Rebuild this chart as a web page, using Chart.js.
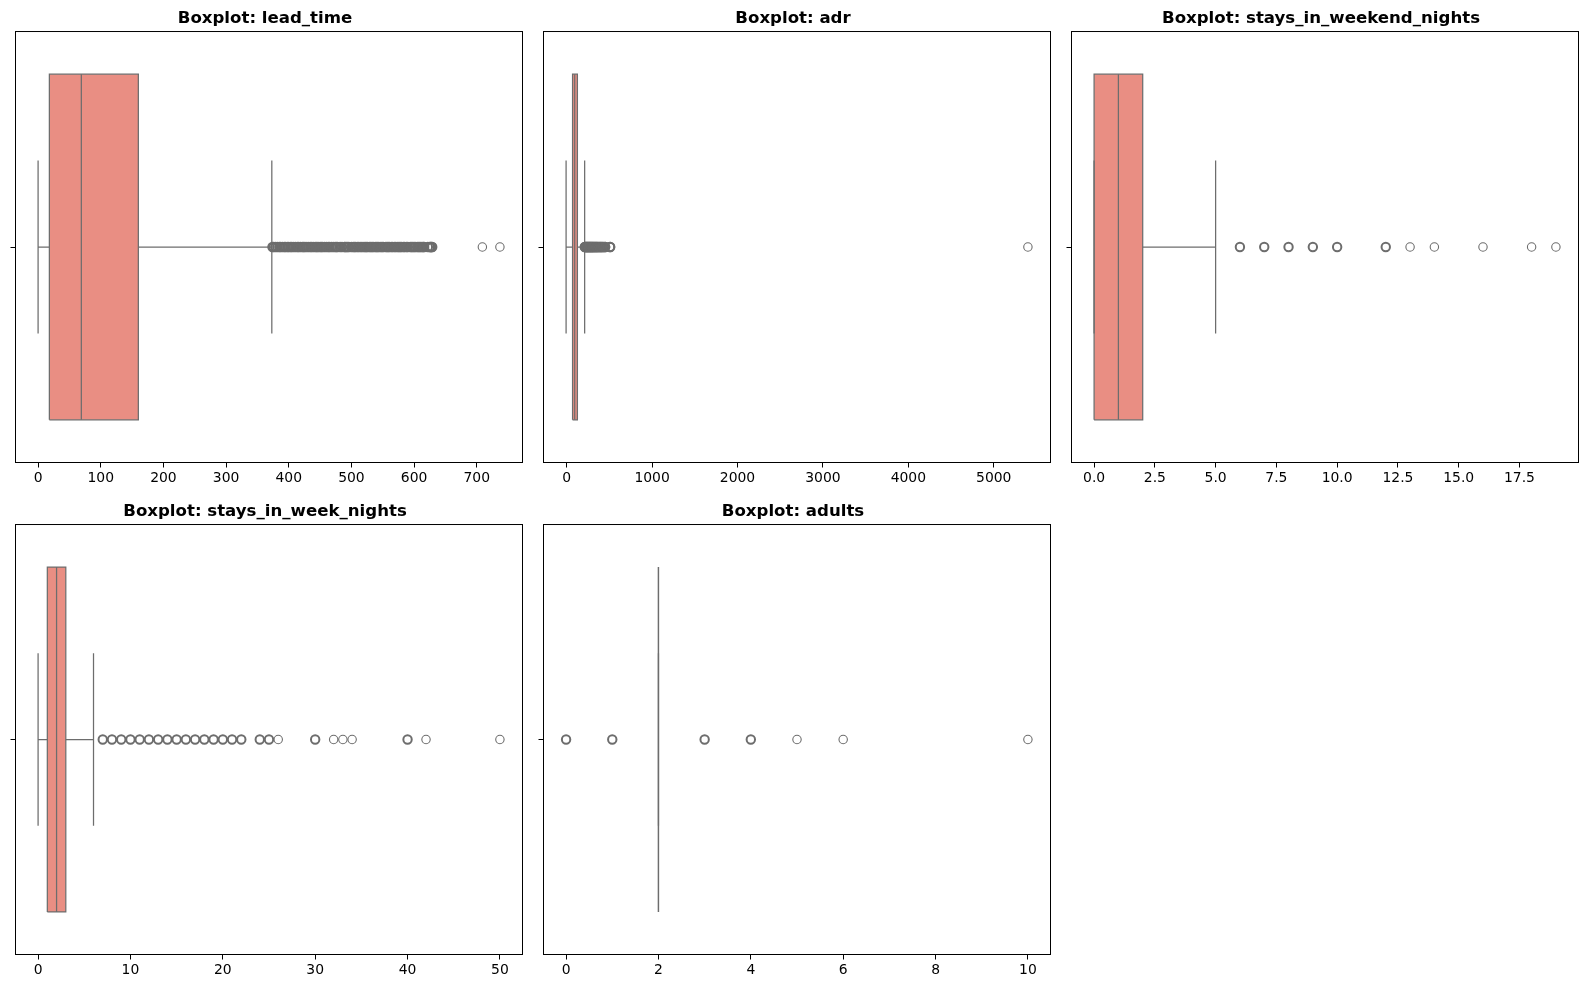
<!DOCTYPE html>
<html>
<head>
<meta charset="utf-8">
<script src="https://cdn.jsdelivr.net/npm/chart.js@4.4.0/dist/chart.umd.min.js"></script>
<style>
  body { margin: 0; background: #fff; width: 1590px; height: 989px; position: relative; overflow: hidden; }
  .panel { position: absolute; width: 524px; }
</style>
</head>
<body>
<div class="panel" style="left:7px;top:3px;height:490px"><canvas id="c0"></canvas></div>
<div class="panel" style="left:535px;top:3px;height:490px"><canvas id="c1"></canvas></div>
<div class="panel" style="left:1063px;top:3px;height:490px"><canvas id="c2"></canvas></div>
<div class="panel" style="left:7px;top:496px;height:489px"><canvas id="c3"></canvas></div>
<div class="panel" style="left:535px;top:496px;height:489px"><canvas id="c4"></canvas></div>
<script>
// one entry per column that was boxplotted
const variables = ['lead_time', 'adr', 'stays_in_weekend_nights', 'stays_in_week_nights', 'adults'];
const whiskerLow = [0, -6.38, 0, 0, 2];
const q1 = [18, 69.29, 0, 1, 2];
const median = [69, 94.575, 1, 2, 2];
const q3 = [160, 126, 2, 3, 2];
const whiskerHigh = [373, 211, 5, 6, 2];

// outliers
const leadTimeOutliers = [374, 376, 379, 382, 385, 387, 390, 393, 395, 398, 400, 403, 405, 408, 411, 414,
  416, 419, 422, 424, 426, 429, 432, 435, 437, 440, 443, 445, 447, 450, 452, 454, 457, 460, 463, 465,
  468, 471, 474, 476, 478, 482, 485, 489, 490, 492, 494, 496, 500, 503, 505, 507, 510, 512, 515, 517,
  520, 522, 524, 526, 529, 531, 533, 535, 538, 540, 542, 544, 547, 549, 551, 555, 557, 559, 561, 564,
  566, 569, 571, 574, 576, 578, 580, 583, 585, 588, 590, 594, 596, 598, 600, 602, 605, 607, 609, 611,
  613, 615, 616, 622, 625, 626, 627, 628, 629, 709, 737];
const adrOutliers = [212, 216, 220, 225, 230, 235, 240, 245, 250, 255, 260, 265, 270, 275, 280, 285, 290,
  295, 300, 305, 310, 316, 322, 328, 334, 340, 346, 352, 358, 365, 372, 380, 388, 395, 402, 410, 418,
  426, 437, 450, 451, 508, 510, 5400];
const weekendOutliers = [6, 7, 8, 9, 10, 12, 13, 14, 16, 18, 19];
const weekOutliers = [7, 8, 9, 10, 11, 12, 13, 14, 15, 16, 17, 18, 19, 20, 21, 22, 24, 25, 26, 30, 32, 33, 34, 40, 42, 50];
const adultsOutliers = [0, 1, 3, 4, 5, 6, 10];
const outliers = [leadTimeOutliers, adrOutliers, weekendOutliers, weekOutliers, adultsOutliers];

// outlier values that occur many times (drawn with a heavier ring)
const frequentOutliers = [
  leadTimeOutliers.filter(v => v < 700),
  adrOutliers.filter(v => v < 1000),
  [6, 7, 8, 9, 10, 12],
  [7, 8, 9, 10, 11, 12, 13, 14, 15, 16, 17, 18, 19, 20, 21, 22, 24, 25, 30, 40],
  [0, 1, 3, 4]
];

const xTicks = [
  [0, 100, 200, 300, 400, 500, 600, 700],
  [0, 1000, 2000, 3000, 4000, 5000],
  [0, 2.5, 5, 7.5, 10, 12.5, 15, 17.5],
  [0, 10, 20, 30, 40, 50],
  [0, 2, 4, 6, 8, 10]
];
const tickDecimals = [0, 0, 1, 0, 0];

const boxFill = '#e98e83';
const lineGray = '#6d6d6d';

const framePlugin = {
  id: 'frame',
  afterDatasetsDraw(chart) {
    const { ctx, chartArea: a } = chart;
    ctx.save();
    ctx.strokeStyle = '#000';
    ctx.lineWidth = 1;
    ctx.strokeRect(a.left + 0.5, a.top + 0.5, a.right - a.left - 1, a.bottom - a.top - 1);
    ctx.restore();
  }
};

function drawBoxplot(i) {
  const all = outliers[i].concat([whiskerLow[i], whiskerHigh[i]]);
  const lo = Math.min(...all), hi = Math.max(...all);
  const pad = (hi - lo) * 0.05;
  const heavy = new Set(frequentOutliers[i]);

  const ctx = document.getElementById('c' + i);
  new Chart(ctx, {
    type: 'scatter',
    data: {
      datasets: [
        {
          type: 'line',
          data: [{ x: q1[i], y: 0.4 }, { x: q3[i], y: 0.4 }],
          fill: { value: -0.4 },
          backgroundColor: boxFill,
          borderWidth: 0,
          pointRadius: 0,
          order: 10
        },
        {
          type: 'line',
          data: [{ x: q1[i], y: -0.4 }, { x: q3[i], y: -0.4 }, { x: q3[i], y: 0.4 }, { x: q1[i], y: 0.4 }, { x: q1[i], y: -0.4 }],
          borderColor: lineGray,
          borderWidth: 1.25,
          borderJoinStyle: 'miter',
          pointRadius: 0,
          fill: false,
          order: 5
        },
        {
          type: 'line',
          data: [{ x: median[i], y: -0.4 }, { x: median[i], y: 0.4 }],
          borderColor: lineGray,
          borderWidth: 1.25,
          pointRadius: 0,
          fill: false,
          order: 4
        },
        {
          // whiskers and caps
          type: 'line',
          data: [
            { x: whiskerLow[i], y: 0 }, { x: q1[i], y: 0 }, { x: q1[i], y: null },
            { x: q3[i], y: 0 }, { x: whiskerHigh[i], y: 0 }, { x: whiskerHigh[i], y: null },
            { x: whiskerLow[i], y: -0.2 }, { x: whiskerLow[i], y: 0.2 }, { x: whiskerLow[i], y: null },
            { x: whiskerHigh[i], y: -0.2 }, { x: whiskerHigh[i], y: 0.2 }
          ],
          borderColor: lineGray,
          borderWidth: 1.25,
          pointRadius: 0,
          spanGaps: false,
          fill: false,
          order: 4
        },
        {
          type: 'scatter',
          data: outliers[i].filter(v => !heavy.has(v)).map(v => ({ x: v, y: 0 })),
          pointStyle: 'circle',
          pointRadius: 4.2,
          pointBorderWidth: 1.1,
          pointBackgroundColor: 'rgba(0,0,0,0)',
          pointBorderColor: lineGray,
          order: 2
        },
        {
          type: 'scatter',
          data: outliers[i].filter(v => heavy.has(v)).map(v => ({ x: v, y: 0 })),
          pointStyle: 'circle',
          pointRadius: 4.2,
          pointBorderWidth: 2,
          pointBackgroundColor: 'rgba(0,0,0,0)',
          pointBorderColor: lineGray,
          order: 1
        }
      ]
    },
    options: {
      responsive: true,
      maintainAspectRatio: false,
      animation: false,
      events: [],
      layout: { padding: { left: 0, right: 8, top: 0, bottom: 0 } },
      plugins: {
        legend: { display: false },
        tooltip: { enabled: false },
        title: {
          display: true,
          text: 'Boxplot: ' + variables[i],
          color: '#000',
          font: { family: 'DejaVu Sans', size: 16.6, weight: 'bold', lineHeight: 1.2 },
          padding: { top: 5.5, bottom: 2.6 }
        }
      },
      scales: {
        x: {
          type: 'linear',
          min: lo - pad,
          max: hi + pad,
          afterBuildTicks: scale => { scale.ticks = xTicks[i].map(v => ({ value: v })); },
          afterFit: scale => { scale.height = 30; },
          ticks: {
            color: '#000',
            font: { family: 'DejaVu Sans', size: 13.9 },
            padding: 3,
            maxRotation: 0,
            autoSkip: false,
            callback: v => Number(v).toFixed(tickDecimals[i])
          },
          grid: { drawOnChartArea: false, tickLength: 4.5, tickColor: '#000', tickWidth: 1 },
          border: { display: false }
        },
        y: {
          type: 'linear',
          min: -0.5,
          max: 0.5,
          afterBuildTicks: scale => { scale.ticks = [{ value: 0 }]; },
          afterFit: scale => { scale.width = 8; },
          ticks: { callback: () => '' },
          grid: { drawOnChartArea: false, tickLength: 4.5, tickColor: '#000', tickWidth: 1 },
          border: { display: false }
        }
      }
    },
    plugins: [framePlugin]
  });
}

variables.forEach((name, i) => drawBoxplot(i));
</script>
</body>
</html>
